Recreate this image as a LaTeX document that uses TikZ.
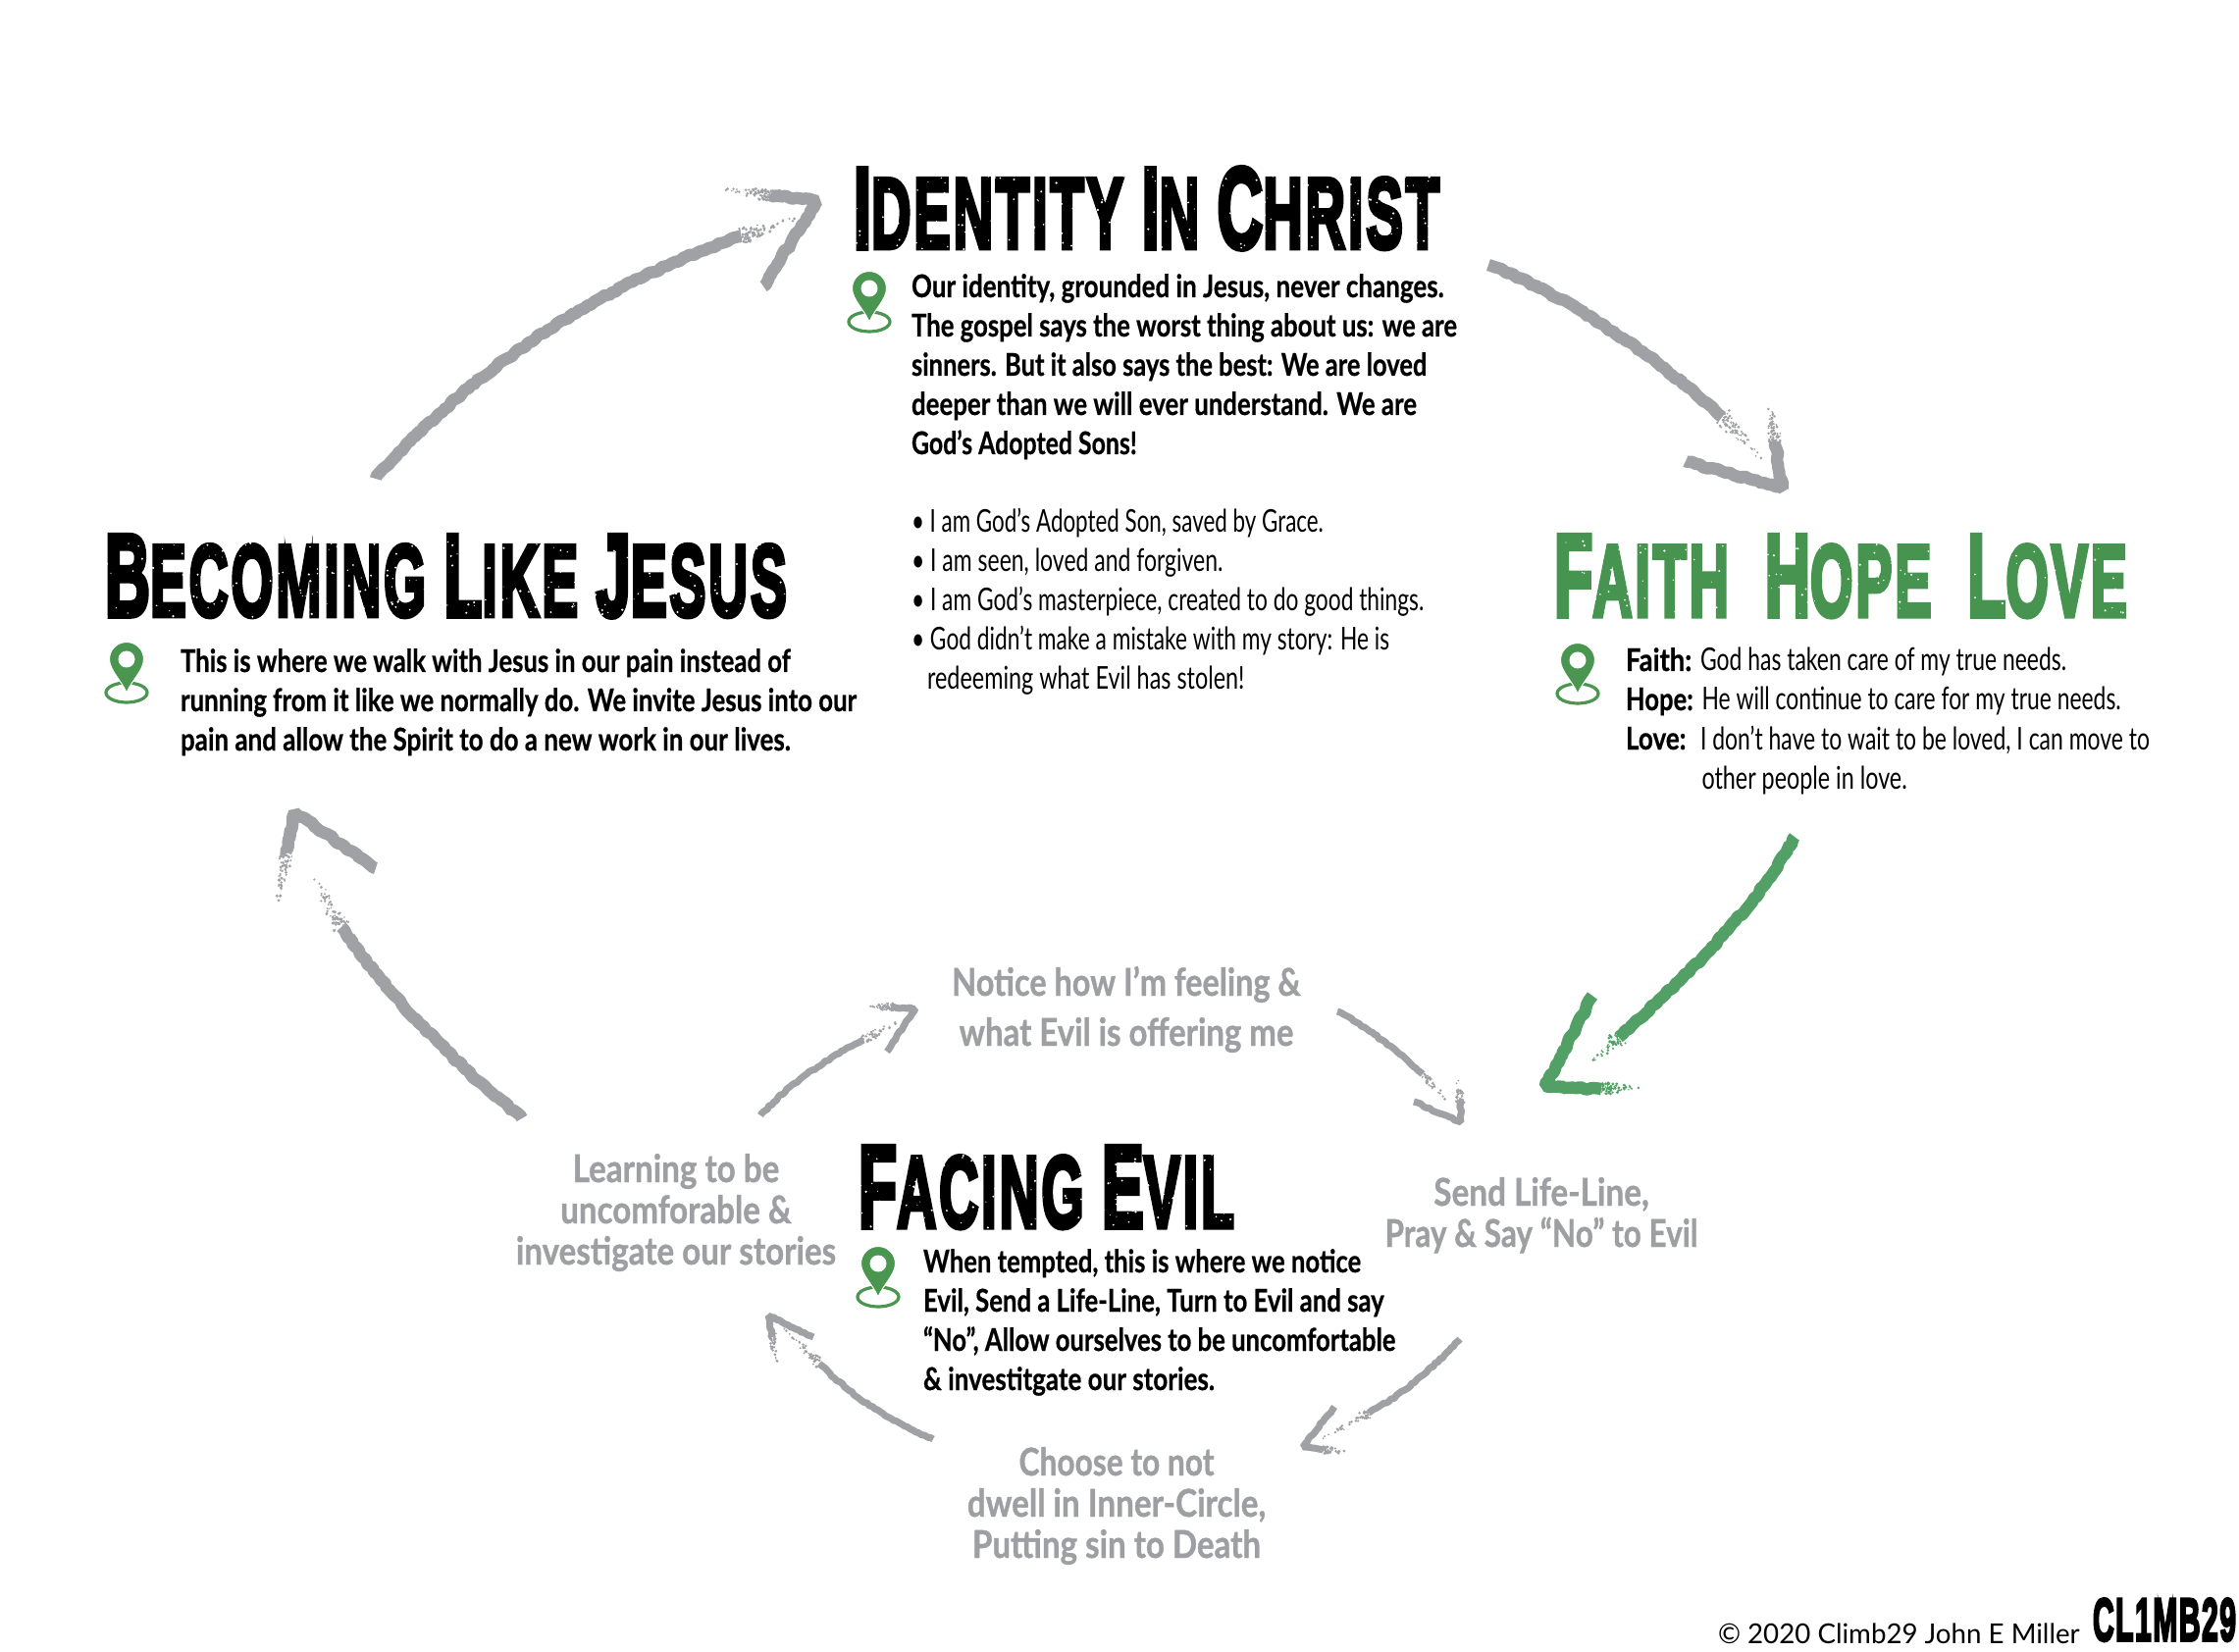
\documentclass[tikz,border=0pt]{standalone}
\usepackage{fontspec}
\usepackage{graphicx}
\usetikzlibrary{decorations.pathmorphing,calc}
\setmainfont{Lato}
\newfontfamily\ttlfont[UprightFont=* Bold,FakeBold=5,LetterSpace=5]{Liberation Sans}
\newfontfamily\bodybold[UprightFont=* Bold,FakeBold=0.6]{Lato}
\newfontfamily\grayfont[UprightFont=* Bold,FakeBold=1]{Lato}
\newdimen\pxu \pxu=0.7314pt
\newdimen\blockw \blockw=400pt
\definecolor{chalkgray}{HTML}{A0A1A4}
\definecolor{labelgray}{HTML}{9D9FA2}
\definecolor{titlegreen}{HTML}{46944F}
\definecolor{chalkgreen}{HTML}{52A066}
\definecolor{pingreen}{HTML}{4A9650}
% one printed line, fitted to its width in the reference
\newcommand\fl[2]{\hbox{\resizebox{#1\pxu}{\height}{#2}}}
\newcommand\flc[2]{\hbox to \blockw{\hss\resizebox{#1\pxu}{\height}{#2}\hss}}
\newcommand\flrow[5]{\hbox{\hbox to 52\pxu{\resizebox{#1\pxu}{\height}{\bodybold #2}\hss}\hskip #3\pxu\resizebox{#4\pxu}{\height}{#5}}}
\newcommand\ttl[3]{\resizebox{#1pt}{#2pt}{\ttlfont\fontsize{34.8}{34.8}\selectfont #3}}
\newcommand\bg[1]{{\fontsize{40}{40}\selectfont #1}}
\newcommand\stack[1]{\vtop{\baselineskip=20pt\lineskiplimit=-100pt #1}}
% white flecks over a title block
\newcommand\titlespeck[5]{\foreach \i in {1,...,#5}{%
  \pgfmathsetmacro\sx{#1+rnd*(#3-#1)}\pgfmathsetmacro\sy{#2+rnd*(#4-#2)}\pgfmathsetmacro\sr{0.5+rnd*0.8}%
  \fill[white] (\sx,\sy) circle (\sr);}}
% chalk dust fading from one named point to another
\newcommand\dust[5]{\foreach \i in {1,...,#4}{%
  \pgfmathsetmacro\st{rnd*rnd}\pgfmathsetmacro\sx{(rnd-0.5)*#5*(1.1-\st)}\pgfmathsetmacro\sy{(rnd-0.5)*#5*(1.1-\st)}\pgfmathsetmacro\sr{0.8+rnd*0.9}%
  \fill[#3] ($(#1)!\st!(#2)+(\sx,\sy)$) circle (\sr);}}
\tikzset{
  x=0.5pt,y=-0.5pt,
  txt/.style={inner sep=0pt,outer sep=0pt,anchor=base west},
  ctxt/.style={inner sep=0pt,outer sep=0pt,anchor=base,text=labelgray,font=\fontsize{19.5}{21}\selectfont\grayfont},
  title/.style={inner sep=0pt,outer sep=0pt,anchor=south west},
  chalk/.style={draw=chalkgray,line width=6.2pt,decorate,decoration={random steps,segment length=2pt,amplitude=0.7pt},line join=bevel},
  chalksm/.style={chalk,line width=3.5pt,decoration={random steps,segment length=1.6pt,amplitude=0.45pt}},
  pinmark/.pic={
    \draw[pingreen,line width=1.6pt] (0,34) ellipse (21 and 10);
    \fill[pingreen,draw=white,line width=0.5pt] (0,34) .. controls (-5,22) and (-17.5,11) .. (-17.5,0) arc (180:360:17.5) .. controls (17.5,11) and (5,22) .. (0,34) -- cycle;
    \fill[white] (0,0) circle (8.5);
  }
}
\begin{document}
\begin{tikzpicture}
\pgfmathsetseed{29}
\useasboundingbox (0,0) rectangle (2282,1684);
% titles
\node[title] (identitytitle) at (870,254) {\ttl{298.5}{41}{\bg{I}DENTITY \bg{I}N \bg{C}HRIST}};
\node[title,text=black] (becomingtitle) at (107,629) {\ttl{347.5}{41}{\bg{B}ECOMING \bg{L}IKE \bg{J}ESUS}};
\node[title,text=titlegreen] (fhltitle) at (1584,629) {\ttl{292}{41}{\bg{F}AITH\ \ \bg{H}OPE\ \ \bg{L}OVE}};
\node[title] (facingtitle) at (875,1252) {\ttl{191.5}{41}{\bg{F}ACING \bg{E}VIL}};
\titlespeck{870}{172}{1467}{254}{260}
\titlespeck{107}{547}{802}{629}{300}
\titlespeck{1584}{547}{2168}{629}{170}
\titlespeck{875}{1170}{1258}{1252}{170}
% pins
\path (886,294) pic (pin1) {pinmark};
\path (129,672) pic (pin2) {pinmark};
\path (1608,673) pic (pin3) {pinmark};
\path (895,1288) pic (pin4) {pinmark};
% bodies
\node[txt] (identitybody) at (929,303) {\bodybold\fontsize{16}{20}\selectfont\stack{
  \fl{371}{Our identity, grounded in Jesus, never changes.}
  \fl{380}{The gospel says the worst thing about us: we are}
  \fl{359}{sinners. But it also says the best: We are loved}
  \fl{352}{deeper than we will ever understand. We are}
  \fl{157}{God’s Adopted Sons!}}};
\node[txt] (identitylist) at (929,543) {\fontsize{16}{20}\selectfont\stack{
  \fl{287}{• I am God’s Adopted Son, saved by Grace.}
  \fl{217}{• I am seen, loved and forgiven.}
  \fl{357}{• I am God’s masterpiece, created to do good things.}
  \fl{333}{• God didn’t make a mistake with my story: He is}
  \hbox{\hskip 11\pxu\resizebox{221\pxu}{\height}{redeeming what Evil has stolen!}}}};
\node[txt] (becomingbody) at (184,685) {\bodybold\fontsize{16}{20}\selectfont\stack{
  \fl{425}{This is where we walk with Jesus in our pain instead of}
  \fl{471}{running from it like we normally do. We invite Jesus into our}
  \fl{425}{pain and allow the Spirit to do a new work in our lives.}}};
\node[txt] (fhlbody) at (1657,684) {\fontsize{16}{20}\selectfont\stack{
  \flrow{46}{Faith:}{0}{255}{God has taken care of my true needs.}
  \flrow{47}{Hope:}{1}{292}{He will continue to care for my true needs.}
  \flrow{42}{Love:}{0}{313}{I don’t have to wait to be loved, I can move to}
  \hbox{\hskip 53\pxu\resizebox{143\pxu}{\height}{other people in love.}}}};
\node[txt] (facingbody) at (941,1297) {\bodybold\fontsize{16}{20}\selectfont\stack{
  \fl{305}{When tempted, this is where we notice}
  \fl{321}{Evil, Send a Life-Line, Turn to Evil and say}
  \fl{329}{“No”, Allow ourselves to be uncomfortable}
  \fl{203}{\& investitgate our stories.}}};
% gray step labels
\node[ctxt] (notice) at (1148,1015) {\baselineskip=25.5pt\vtop{\lineskiplimit=-100pt
  \flc{243}{Notice how I’m feeling \&}
  \flc{233}{what Evil is offering me}}};
\node[ctxt] (learning) at (689,1205) {\vtop{\baselineskip=21pt\lineskiplimit=-100pt
  \flc{144}{Learning to be}
  \flc{161}{uncomforable \&}
  \flc{223}{investigate our stories}}};
\node[ctxt] (send) at (1571,1229) {\vtop{\baselineskip=21pt\lineskiplimit=-100pt
  \flc{150}{Send Life-Line,}
  \flc{218}{Pray \& Say “No” to Evil}}};
\node[ctxt] (choose) at (1138,1504) {\vtop{\baselineskip=21pt\lineskiplimit=-100pt
  \flc{136}{Choose to not}
  \flc{208}{dwell in Inner-Circle,}
  \flc{201}{Putting sin to Death}}};
% footer
\node[txt] (copyright) at (1751,1675) {\resizebox{252\pxu}{\height}{\fontsize{14}{16}\selectfont © 2020 Climb29 John E Miller}};
\node[title] (logo) at (2133,1673) {\resizebox{73pt}{21.5pt}{\ttlfont\fontsize{34.8}{34.8}\selectfont CL1MB29}};
% large chalk arrows
\coordinate (a1s) at (383,488); \coordinate (a1e) at (755,241); \coordinate (a1f) at (815,221);
\coordinate (a1t) at (833,205); \coordinate (a1b) at (778,292);
\draw[chalk] (a1s) .. controls (485,370) and (625,285) .. (a1e);
\dust{a1e}{a1f}{chalkgray}{90}{14}
\coordinate (a1g) at (785,199); \coordinate (a1h) at (737,193);
\dust{a1g}{a1h}{chalkgray}{80}{12}
\draw[chalk] (a1g) -- (a1t) -- (a1b);
\coordinate (a2s) at (1517,270); \coordinate (a2e) at (1755,425); \coordinate (a2f) at (1797,470);
\coordinate (a2t) at (1817,498); \coordinate (a2b) at (1718,470);
\draw[chalk] (a2s) .. controls (1600,303) and (1690,365) .. (a2e);
\dust{a2e}{a2f}{chalkgray}{70}{14}
\coordinate (a2g) at (1809,450); \coordinate (a2h) at (1802,407);
\dust{a2g}{a2h}{chalkgray}{70}{12}
\draw[chalk] (a2g) -- (a2t) -- (a2b);
\coordinate (a3s) at (1829,853); \coordinate (a3e) at (1650,1057); \coordinate (a3f) at (1622,1082);
\coordinate (a3t) at (1575,1107); \coordinate (a3b) at (1623,1015); \coordinate (a3g) at (1632,1110); \coordinate (a3h) at (1672,1108);
\draw[chalk,draw=chalkgreen] (a3s) .. controls (1790,925) and (1720,995) .. (a3e);
\dust{a3e}{a3f}{chalkgreen}{55}{14}
\draw[chalk,draw=chalkgreen] (a3b) -- (a3t) -- (a3g);
\dust{a3g}{a3h}{chalkgreen}{70}{12}
\coordinate (a4s) at (532,1140); \coordinate (a4e) at (348,945); \coordinate (a4f) at (312,880);
\coordinate (a4t) at (300,828); \coordinate (a4b) at (383,885); \coordinate (a4g) at (292,870); \coordinate (a4h) at (282,925);
\draw[chalk] (a4s) .. controls (465,1085) and (395,1015) .. (a4e);
\dust{a4e}{a4f}{chalkgray}{80}{14}
\draw[chalk] (a4b) -- (a4t) -- (a4g);
\dust{a4g}{a4h}{chalkgray}{70}{12}
% small chalk arrows
\coordinate (a5s) at (775,1137); \coordinate (a5e) at (880,1060); \coordinate (a5f) at (918,1040);
\coordinate (a5t) at (933,1028); \coordinate (a5g) at (908,1027); \coordinate (a5h) at (882,1024);
\draw[chalksm] (a5s) .. controls (810,1100) and (845,1078) .. (a5e);
\dust{a5e}{a5f}{chalkgray}{40}{8}
\dust{a5g}{a5h}{chalkgray}{40}{8}
\draw[chalksm] (a5g) -- (a5t) -- (904,1072);
\coordinate (a6s) at (1363,1031); \coordinate (a6e) at (1450,1095); \coordinate (a6f) at (1480,1128);
\coordinate (a6t) at (1489,1144); \coordinate (a6g) at (1488,1122); \coordinate (a6h) at (1485,1097);
\draw[chalksm] (a6s) .. controls (1395,1048) and (1425,1072) .. (a6e);
\dust{a6e}{a6f}{chalkgray}{40}{8}
\dust{a6g}{a6h}{chalkgray}{40}{8}
\draw[chalksm] (a6g) -- (a6t) -- (1441,1123);
\coordinate (a7s) at (1488,1365); \coordinate (a7e) at (1395,1440); \coordinate (a7f) at (1345,1468);
\coordinate (a7t) at (1328,1475); \coordinate (a7g) at (1348,1478); \coordinate (a7h) at (1374,1480);
\draw[chalksm] (a7s) .. controls (1455,1400) and (1425,1425) .. (a7e);
\dust{a7e}{a7f}{chalkgray}{45}{8}
\draw[chalksm] (1360,1434) -- (a7t) -- (a7g);
\dust{a7g}{a7h}{chalkgray}{40}{8}
\coordinate (a8s) at (951,1467); \coordinate (a8e) at (835,1390); \coordinate (a8f) at (798,1353);
\coordinate (a8t) at (783,1341); \coordinate (a8g) at (787,1363); \coordinate (a8h) at (793,1392);
\draw[chalksm] (a8s) .. controls (900,1445) and (865,1420) .. (a8e);
\dust{a8e}{a8f}{chalkgray}{45}{8}
\draw[chalksm] (829,1363) -- (a8t) -- (a8g);
\dust{a8g}{a8h}{chalkgray}{40}{8}
\end{tikzpicture}
\end{document}
